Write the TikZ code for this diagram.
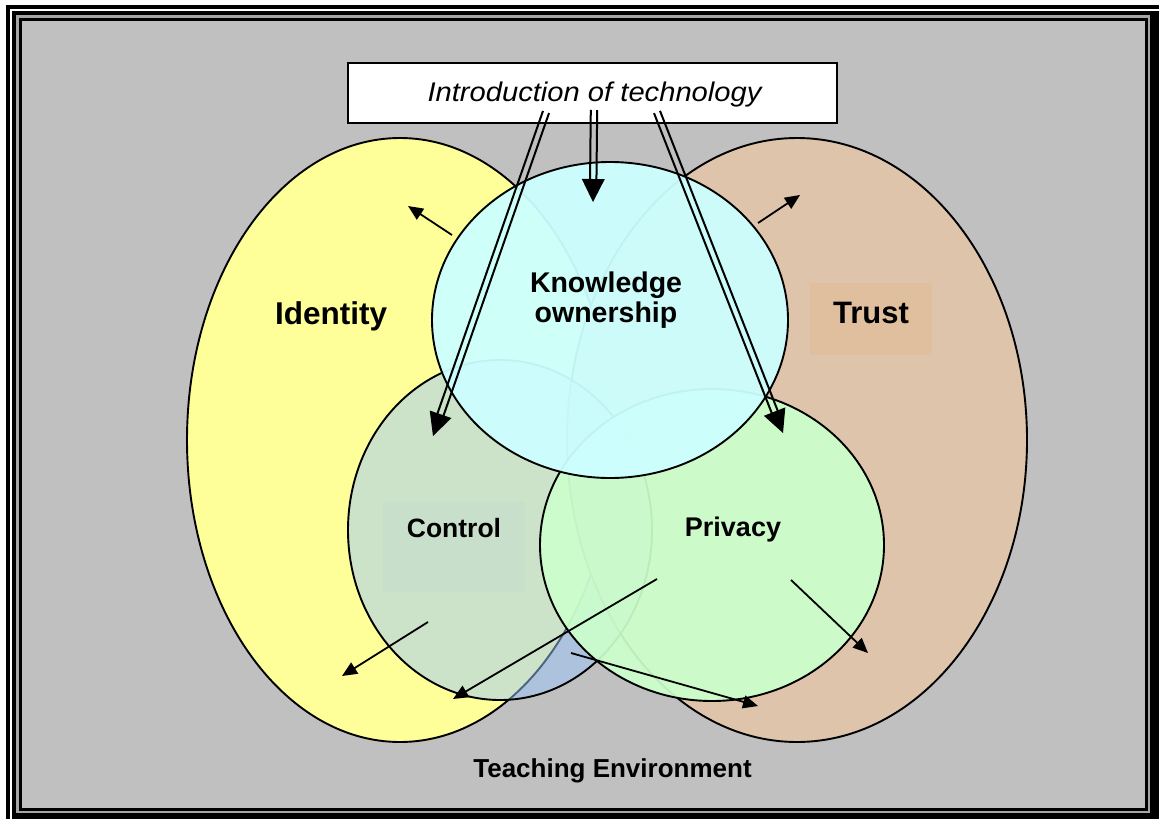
\documentclass[tikz,border=0pt]{standalone}
\usepackage{fontspec}
\setmainfont{Liberation Sans}
\usetikzlibrary{shapes.geometric,arrows.meta,calc}
\definecolor{bggray}{RGB}{192,192,192}
\definecolor{framegray}{RGB}{165,165,165}
\definecolor{idyellow}{RGB}{255,255,153}
\definecolor{trustpeach}{RGB}{222,196,170}
\definecolor{ctrlblue}{RGB}{155,198,250}
\definecolor{privgreen}{RGB}{204,255,204}
\definecolor{knowcyan}{RGB}{204,255,255}
\newcommand\mydblarrow[2]{%
  \coordinate (#1b) at ($(#2)!20pt!(#1)$);
  \coordinate (#1h) at ($(#2)!23pt!(#1)$);
  \draw[dblline] ($(#1)!3.2pt!90:(#2)$) -- ($(#1b)!3.2pt!90:(#2)$);
  \draw[dblline] ($(#1)!3.2pt!-90:(#2)$) -- ($(#1b)!3.2pt!-90:(#2)$);
  \fill ($(#1h)!11.5pt!90:(#2)$) -- (#2) -- ($(#1h)!11.5pt!-90:(#2)$) -- cycle;
}
\begin{document}
\begin{tikzpicture}[x=1pt,y=-1pt,
  region/.style={ellipse,draw=black,line width=1.9pt,inner sep=0pt},
  lbl/.style={inner sep=0pt,anchor=base,text=black},
  dblline/.style={line width=2pt,line cap=butt},
  thinarrow/.style={line width=1.8pt,-{Triangle[length=15pt,width=13pt]}},
  lblbox/.style={inner sep=0pt,draw=none}]
\useasboundingbox (0,0) rectangle (1159,819);
% frame
\fill[white] (0,0) rectangle (1159,819);
\fill[black] (6,5) rectangle (1159,819);
\draw[white,line width=2pt] (11,10) rectangle (1165,825);
\fill[framegray] (16,15) rectangle (1150,813);
\fill[black] (19,18) rectangle (1148,811);
\fill[bggray] (22,21) rectangle (1145,808);
% regions
\node[region,fill=idyellow,minimum width=426pt,minimum height=604pt] (identity) at (400,440) {};
\node[region,fill=trustpeach,minimum width=460pt,minimum height=604pt] (trust) at (797,440) {};
\node[region,fill=ctrlblue,fill opacity=0.5,minimum width=304pt,minimum height=340pt] (control) at (500,530) {};
\node[region,fill=privgreen,fill opacity=0.92,minimum width=344pt,minimum height=312pt] (privacy) at (712,545) {};
\node[region,fill=knowcyan,fill opacity=0.95,minimum width=356pt,minimum height=316pt] (knowledge) at (610,320) {};
% faint label boxes
\fill[orange!60!trustpeach,opacity=0.1] (810,283) rectangle (932,355);
\fill[ctrlblue,opacity=0.08] (383,502) rectangle (525,592);
% labels
\node[lbl,font=\bfseries\fontsize{31.5}{32}\selectfont] (idlabel) at (331,324) {Identity};
\node[lbl,font=\bfseries\fontsize{31}{32}\selectfont] (trustlabel) at (871,323) {Trust};
\node[lbl,font=\bfseries\fontsize{28.5}{30}\selectfont] (knowlabelA) at (606,292) {Knowledge};
\node[lbl,font=\bfseries\fontsize{28.5}{30}\selectfont] (knowlabelB) at (606,322) {ownership};
\node[lbl,font=\bfseries\fontsize{26.5}{28}\selectfont] (ctrllabel) at (454,537) {Control};
\node[lbl,font=\bfseries\fontsize{27}{28}\selectfont] (privlabel) at (733,536) {Privacy};
\node[lbl,font=\bfseries\fontsize{26}{28}\selectfont] (envlabel) at (612.5,777) {Teaching Environment};
% intro box
\node[draw=black,fill=white,line width=1.8pt,minimum width=489pt,minimum height=60pt,inner sep=0pt] (intro) at (592.5,93) {};
\node[lbl,font=\itshape\fontsize{27}{28}\selectfont] (introtext) at (594.5,101) {\scalebox{1.08}[1]{Introduction of technology}};
% double arrows
\coordinate (sA) at (546,112); \coordinate (tA) at (433,436);
\coordinate (sB) at (594,110); \coordinate (tB) at (593,202);
\coordinate (sC) at (657,112); \coordinate (tC) at (783,433);
\mydblarrow{sA}{tA}
\mydblarrow{sB}{tB}
\mydblarrow{sC}{tC}
% thin arrows
\coordinate (a1) at (452,235); \coordinate (b1) at (408,206);
\coordinate (a2) at (758,223); \coordinate (b2) at (800,195);
\coordinate (a3) at (428,622); \coordinate (b3) at (342,676);
\coordinate (a4) at (657,579); \coordinate (b4) at (453,699);
\coordinate (a5) at (791,580); \coordinate (b5) at (868,653);
\coordinate (a6) at (571,653); \coordinate (b6) at (758,706);
\draw[thinarrow] (a1) -- (b1);
\draw[thinarrow] (a2) -- (b2);
\draw[thinarrow] (a3) -- (b3);
\draw[thinarrow] (a4) -- (b4);
\draw[thinarrow] (a5) -- (b5);
\draw[thinarrow] (a6) -- (b6);
\end{tikzpicture}
\end{document}
